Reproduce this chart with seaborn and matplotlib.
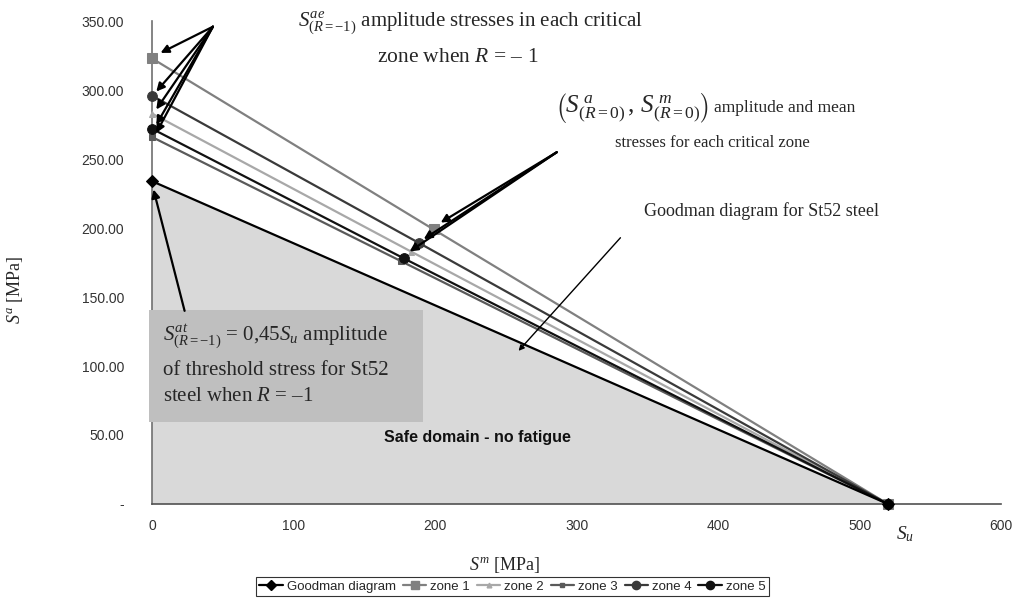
import matplotlib
matplotlib.use("Agg")
import matplotlib.pyplot as plt
import seaborn as sns
import pandas as pd
from matplotlib.ticker import FuncFormatter
from matplotlib.patches import Rectangle, Polygon
from matplotlib.lines import Line2D

# ---- data ----
series_names = ["Goodman diagram", "zone 1", "zone 2", "zone 3", "zone 4", "zone 5"]
goodman_sm = [0, 520]
goodman_sa = [234, 0]
zone1_sm = [0, 199, 520]
zone1_sa = [323, 199, 0]
zone2_sm = [0, 183, 520]
zone2_sa = [283, 183, 0]
zone3_sm = [0, 176, 520]
zone3_sa = [266, 176, 0]
zone4_sm = [0, 189, 520]
zone4_sa = [296, 189, 0]
zone5_sm = [0, 178, 520]
zone5_sa = [272, 178, 0]
x_ticks = [0, 100, 200, 300, 400, 500, 600]
y_ticks = [0, 50, 100, 150, 200, 250, 300, 350]

sns.set_theme(style="white")
plt.rcParams["font.family"] = ["Liberation Sans", "DejaVu Sans"]
plt.rcParams["mathtext.fontset"] = "custom"
plt.rcParams["mathtext.rm"] = "Liberation Serif"
plt.rcParams["mathtext.it"] = "Liberation Serif:italic"
plt.rcParams["mathtext.bf"] = "Liberation Serif:bold"

fig = plt.figure(figsize=(10.15, 6.05), dpi=100)
ax = fig.add_axes([0.1498, 0.167, 0.8365, 0.798])

# safe domain
ax.add_patch(Polygon([(goodman_sm[0], 0), (goodman_sm[0], goodman_sa[0]), (goodman_sm[1], goodman_sa[1])],
                     closed=True, facecolor="#d9d9d9", edgecolor="none", zorder=0))

styles = {
    "Goodman diagram": dict(color="black", marker="D", markersize=6, lw=1.6),
    "zone 1": dict(color="#808080", marker="s", markersize=7, lw=1.6),
    "zone 2": dict(color="#a8a8a8", marker="^", markersize=4, lw=1.6),
    "zone 3": dict(color="#5a5a5a", marker="s", markersize=4, lw=1.6),
    "zone 4": dict(color="#3a3a3a", marker="o", markersize=7, lw=1.6),
    "zone 5": dict(color="#111111", marker="o", markersize=7, lw=1.6),
}
data = {
    "Goodman diagram": (goodman_sm, goodman_sa),
    "zone 1": (zone1_sm, zone1_sa),
    "zone 2": (zone2_sm, zone2_sa),
    "zone 3": (zone3_sm, zone3_sa),
    "zone 4": (zone4_sm, zone4_sa),
    "zone 5": (zone5_sm, zone5_sa),
}
draw_order = ["zone 1", "zone 2", "zone 3", "zone 4", "zone 5", "Goodman diagram"]
for name in draw_order:
    sm, sa = data[name]
    df = pd.DataFrame({"Sm": sm, "Sa": sa})
    st = styles[name]
    sns.lineplot(data=df, x="Sm", y="Sa", sort=False, ax=ax, color=st["color"],
                 marker=st["marker"], markersize=st["markersize"], linewidth=st["lw"],
                 markeredgecolor=st["color"], clip_on=False, zorder=3)

ax.set_xlim(0, 600)
ax.set_ylim(0, 350)
ax.set_xticks(x_ticks)
ax.set_yticks(y_ticks)
ax.yaxis.set_major_formatter(FuncFormatter(lambda v, p: "-" if v == 0 else f"{v:.2f}"))
ax.xaxis.set_major_formatter(FuncFormatter(lambda v, p: f"{int(v)}"))
for s in ["top", "right"]:
    ax.spines[s].set_visible(False)
ax.spines["left"].set_color("#707070")
ax.spines["bottom"].set_color("#505050")
ax.spines["left"].set_linewidth(1.2)
ax.spines["bottom"].set_linewidth(1.2)
ax.tick_params(axis="both", direction="out", length=3, width=1, colors="#606060",
               labelcolor="#333333", labelsize=10)
ax.tick_params(axis="y", pad=17)
ax.tick_params(axis="x", pad=8)
ax.set_xlabel("")
ax.set_ylabel("")

serif = ["Liberation Serif", "DejaVu Serif"]

# axis labels
fig.text(0.4975, 0.066, r"$S^m$ [MPa]", family=serif, fontsize=13, ha="center", va="center")
fig.text(0.015, 0.52, r"$S^a$ [MPa]", family=serif, fontsize=13, ha="center", va="center", rotation=90)

# annotation 1
ax.text(103, 349, r"$S^{ae}_{(R=-1)}$ amplitude stresses in each critical", family=serif,
        fontsize=15, ha="left", va="center", clip_on=False)
ax.text(216, 324, r"zone when $R$ = – 1", family=serif, fontsize=15.5, ha="center", va="center")
arr = dict(arrowstyle="-|>", color="black", lw=1.6, mutation_scale=12, shrinkA=0, shrinkB=0)
for tgt in [(6, 327), (3, 299), (3, 286), (3, 275), (3, 269)]:
    ax.annotate("", xy=tgt, xytext=(43, 346), arrowprops=arr, annotation_clip=False)

# annotation 2
ax.text(285, 287, r"$\left(S^{\;a}_{(R=0)}\,,\,S^{\;m}_{(R=0)}\right)$", family=serif,
        fontsize=18, ha="left", va="center")
ax.text(397, 287, "amplitude and mean", family=serif, fontsize=12.5, ha="left", va="center")
ax.text(396, 262, "stresses for each critical zone", family=serif, fontsize=12, ha="center", va="center")
for tgt in [(204, 204), (192, 192), (182, 183)]:
    ax.annotate("", xy=tgt, xytext=(286, 255), arrowprops=arr)

# annotation 3
ax.text(348, 212, "Goodman diagram for St52 steel", family=serif, fontsize=13, ha="left", va="center")
ax.annotate("", xy=(259, 111), xytext=(331, 193),
            arrowprops=dict(arrowstyle="-|>", color="black", lw=1.0, mutation_scale=8,
                            shrinkA=0, shrinkB=0))

# box annotation
ax.add_patch(Rectangle((-2, 59.5), 193.5, 81, facecolor="#bfbfbf", edgecolor="none",
                       zorder=4, clip_on=False))
ax.text(8, 121, r"$S^{at}_{(R=-1)}$ = 0,45$S_u$ amplitude", family=serif, fontsize=15,
        ha="left", va="center", zorder=5)
ax.text(8, 97, "of threshold stress for St52", family=serif, fontsize=15, ha="left", va="center", zorder=5)
ax.text(8, 78, r"steel when $R$ = –1", family=serif, fontsize=15, ha="left", va="center", zorder=5)
ax.annotate("", xy=(1, 228), xytext=(23, 140), arrowprops=arr, zorder=6)

ax.text(230, 48.5, "Safe domain - no fatigue", fontsize=11.5, fontweight="bold", ha="center",
        va="center", color="#111111")
ax.text(532, -22, r"$S_u$", family=serif, fontsize=14, ha="center", va="center", clip_on=False)

# legend
handles = []
for name in series_names:
    st = styles[name]
    handles.append(Line2D([0], [0], color=st["color"], lw=st["lw"], marker=st["marker"],
                          markersize=st["markersize"] * 0.85, markeredgecolor=st["color"]))
leg = fig.legend(handles, series_names, loc="center", bbox_to_anchor=(0.505, 0.03), ncol=6,
                 frameon=True, fancybox=False, edgecolor="black", fontsize=9.5, handlelength=1.8,
                 handletextpad=0.3, columnspacing=0.5, borderpad=0.25, borderaxespad=0)
leg.get_frame().set_linewidth(0.8)

fig.savefig("out.png", dpi=100)
